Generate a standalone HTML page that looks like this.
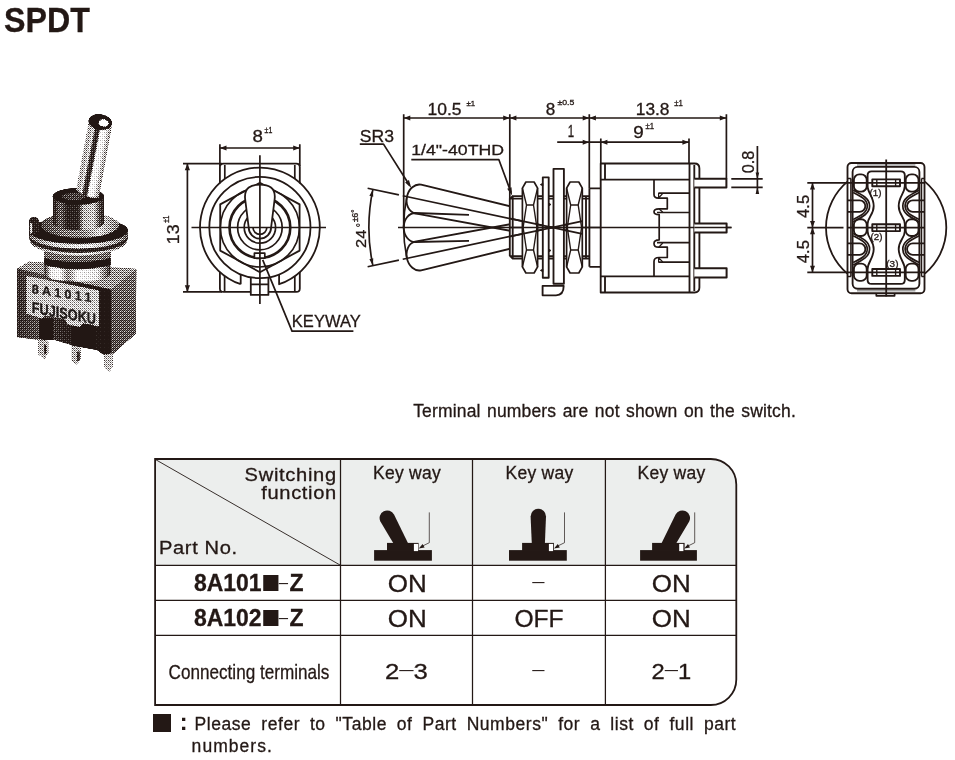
<!DOCTYPE html>
<html lang="en">
<head>
<meta charset="utf-8">
<title>SPDT</title>
<style>
html,body{margin:0;padding:0;background:#fff;}
body{will-change:transform;-webkit-text-stroke:0.3px #231815;width:955px;height:760px;position:relative;overflow:hidden;color:#231815;font-family:"Liberation Sans",sans-serif;}
h1{position:absolute;left:4px;top:0;margin:0;font-size:35px;line-height:40px;font-weight:bold;white-space:nowrap;transform:scaleX(0.92);transform-origin:0 0;}
#dwg{position:absolute;left:0;top:0;width:955px;height:760px;}
#dwg text{font-family:"Liberation Sans",sans-serif;fill:#231815;stroke:#231815;stroke-width:0.3px;}
.note{position:absolute;margin:0;white-space:nowrap;font-size:17.5px;line-height:20px;}
#cap{left:413.2px;top:400.8px;letter-spacing:0.16px;word-spacing:1.4px;}
#spec{position:absolute;left:155px;top:459px;width:582px;border-collapse:collapse;border-spacing:0;table-layout:fixed;}
#spec td,#spec th{padding:0;margin:0;text-align:center;vertical-align:middle;font-weight:normal;font-size:23px;line-height:26px;white-space:nowrap;position:relative;}
#spec th.kw{vertical-align:top;font-size:17.5px;line-height:20px;}
#spec th.kw span{display:block;margin-top:4.3px;letter-spacing:0.25px;}
#spec th.corner{font-size:18.3px;line-height:18.3px;}
#spec .sw{position:absolute;right:4.2px;top:7.4px;text-align:right;letter-spacing:0.62px;transform:scaleX(1.1);transform-origin:100% 0;}
#spec .sw .f{letter-spacing:0.58px;position:relative;top:-0.5px;}
#spec .pn{position:absolute;left:4.4px;top:79.7px;letter-spacing:0.57px;transform:scaleX(1.1);transform-origin:0 0;}
#spec td.part b{font-weight:bold;font-size:24.2px;display:inline-block;position:relative;left:1px;top:1.3px;transform:scaleX(0.95);}
#spec td.ct span{display:inline-block;font-size:21px;width:200px;margin:0 -8px 0 -10px;transform:scaleX(0.815);transform-origin:50% 50%;position:relative;left:2px;top:1.5px;}
#spec .w{display:inline-block;transform:scaleX(1.13);transform-origin:50% 50%;position:relative;top:1px;}
#spec .w.off{transform:scaleX(1.07);left:-0.5px;}
#spec .n.n3{transform:scaleX(1.17);left:-0.8px;}
#spec .n.n1{transform:scaleX(1.08);left:-0.6px;}
#spec .n{display:inline-block;font-size:22px;transform:scaleX(1.06);position:relative;top:1.5px;}
#spec .d{display:inline-block;position:relative;top:-2.6px;font-size:22px;font-weight:normal;-webkit-text-stroke:0;transform:scaleY(0.75);}
#spec b .d{margin:0 0.5px 0 -1.2px;transform:scale(0.8,0.75);top:-1.6px;}
#spec td>.d{top:-0.9px;left:-1.2px;}
#spec .n .d{top:-1.8px;}
.sq{display:inline-block;width:16.2px;height:16.9px;overflow:hidden;vertical-align:-0.1px;margin:0 0 0 1.7px;font:normal normal 60px/16.9px "Liberation Sans",sans-serif;text-indent:-9px;text-align:left;color:#231815;-webkit-text-stroke:0;}
#foot{position:absolute;left:154px;top:712px;width:582px;height:46px;margin:0;font-size:17.5px;line-height:22.5px;white-space:nowrap;}
#foot .sq.big{position:absolute;left:-0.8px;top:2.2px;width:17.7px;height:17.6px;line-height:17.6px;margin:0;}
#foot .colon{position:absolute;left:25.8px;top:-1.4px;font-weight:bold;font-size:23.5px;-webkit-text-stroke:0;}
#foot .l1{position:absolute;left:40.6px;top:0.5px;word-spacing:4.5px;letter-spacing:0.55px;}
#foot .l2{position:absolute;left:37.6px;top:22.6px;letter-spacing:1.05px;}
</style>
</head>
<body>
<h1>SPDT</h1>
<svg id="dwg" width="955" height="760" viewBox="0 0 955 760">
<g id="front" fill="none" stroke="#231815" stroke-width="1.8" stroke-linejoin="round">
  <!-- body -->
  <path d="M223.4 163.6 H296.3 Q299.8 163.6 299.8 167.1 V183.5 M299.8 272 V288.4 Q299.8 291.9 296.3 291.9 H268.4 M250.8 291.9 H223.4 Q219.9 291.9 219.9 288.4 V272 M219.9 183.5 V167.1 Q219.9 163.6 223.4 163.6"/>
  <path d="M224.8 165 V179 M294.8 165 V179 M224.6 276 V291 M294.8 276 V291" stroke-width="1.7"/>
  <!-- washer -->
  <path d="M240.7 284.2 A59.9 59.9 0 1 1 279.1 284.2 V274.4 M240.7 284.2 V274.4"/>
  <circle cx="259.9" cy="227.5" r="50.6"/>
  <!-- hex nut -->
  <path d="M259.9 182.8 L299.6 204.4 V250.6 L259.9 272.2 L220.2 250.6 V204.4 Z"/>
  <circle cx="259.9" cy="227.5" r="39.5" stroke-width="1.6"/>
  <circle cx="259.9" cy="227.5" r="30.4" stroke-width="2.6"/>
  <circle cx="259.9" cy="227.5" r="22.3" stroke-width="1.7"/>
  <circle cx="259.9" cy="227.5" r="15.7" stroke-width="1.7"/>
  <!-- lever -->
  <path d="M248.7 227.5 L245.2 199.5 C243.6 187.5 251.5 184.6 259.9 184.6 C268.3 184.6 276.2 187.5 274.6 199.5 L271.1 227.5 A11.2 11.2 0 0 1 248.7 227.5 Z" fill="#fff"/>
  <path d="M253 227.5 A6.9 6.9 0 0 0 266.8 227.5" stroke-width="1.7"/>
  <!-- keyway -->
  <rect x="254.4" y="253.2" width="10.4" height="5" fill="#fff" stroke-width="1.7"/>
  <!-- terminal -->
  <path d="M250.8 278.1 V294.9 H268.4 V278.1 M250.8 284.4 H268.4"/>
  <!-- centre lines -->
  <path d="M259.9 155.2 V304 M191.5 227.5 H326" stroke-width="1.7"/>
  <!-- dims -->
  <path d="M219.9 144.3 V166 M299.8 144.3 V166 M219.9 148 H299.8" stroke-width="1.7"/>
  <path d="M183 163.6 H222 M183 291.9 H222 M187.4 163.6 V291.9" stroke-width="1.7"/>
  <g fill="#231815" stroke="none">
    <path d="M219.9 148 L226.5 145.4 V150.6 Z M299.8 148 L293.2 145.4 V150.6 Z"/>
    <path d="M187.4 163.6 L184.8 170.2 H190 Z M187.4 291.9 L184.8 285.3 H190 Z"/>
  </g>
  <!-- keyway leader -->
  <path d="M262.7 259.9 L292 331.1 H353.4" stroke-width="1.7"/>
</g>
<g id="side" fill="none" stroke="#231815" stroke-width="1.85" stroke-linejoin="round">
<clipPath id="cl"><rect x="380" y="150" width="129.8" height="160"/></clipPath>
<g clip-path="url(#cl)"><path d="M522.10 215.86 L415.10 212.86 C408.80 212.86 403.70 219.42 403.70 227.50 C403.70 235.58 408.80 242.14 415.10 242.14 L522.10 239.14" transform="rotate(12 552.1 227.5)"/><path d="M522.10 215.86 L415.10 212.86 C408.80 212.86 403.70 219.42 403.70 227.50 C403.70 235.58 408.80 242.14 415.10 242.14 L522.10 239.14" transform="rotate(-12 552.1 227.5)"/></g>
<path d="M469 214.9 L415.1 213 C408.8 213 403.7 219.5 403.7 227.5 C403.7 235.5 408.8 242 415.1 242 L469 240.9"/>
<path d="M399.4 227.5 H583" transform="rotate(12 552.1 227.5)" stroke-width="1.7"/>
<path d="M363.5 227.5 H395.5" transform="rotate(12 552.1 227.5)" stroke-width="1.7"/>
<path d="M399.4 227.5 H583" transform="rotate(-12 552.1 227.5)" stroke-width="1.7"/>
<path d="M363.5 227.5 H395.5" transform="rotate(-12 552.1 227.5)" stroke-width="1.7"/>
<path d="M398 227.5 H731.5" stroke-width="1.7"/>
<path d="M406.94 196.65 A148.4 148.4 0 0 0 406.94 258.35" stroke-width="1.6"/>
<path d="M512.7 196.1 H589 M512.7 258.6 H589 M509.8 199 L512.7 196.1 V258.6 L509.8 255.7 Z M509.8 198.6 H589 M509.8 256.2 H589 M586 196.1 V258.6" />
<rect x="542.8" y="177.3" width="5.9" height="100.4" fill="#fff"/>
<path d="M540.3 184.6 L542.8 183.2 V186 Z M551 204.5 L548.7 203.1 V206 Z M551 250.5 L548.7 249 V252 Z M540.3 270.4 L542.8 269 V271.8 Z" fill="#231815" stroke-width="0.8"/>
<path d="M553.5 283.7 V168.8 H563.9 V283.7 Z" fill="#fff"/>
<path d="M542.6 285.8 H563.7 Q563.7 295.3 556 295.3 H542.6 Z" fill="#fff"/>
<path d="M525.9 182.0 H534.1 L537.6 188.1 V266.9 L534.1 273.0 H525.9 L522.4 266.9 V188.1 Z" fill="#fff" stroke-width="1.7"/>
<path d="M522.4 188.1 L526.5 205.0 H533.5 L537.6 188.1 M526.5 205.0 L523.1 227.5 L526.5 250.0 H533.5 L536.9 227.5 L533.5 205.0 M526.5 250.0 L522.4 266.9 M533.5 250.0 L537.6 266.9" stroke-width="1.4"/>
<path d="M570.1 182.0 H578.8 L582.3 188.1 V266.9 L578.8 273.0 H570.1 L566.6 266.9 V188.1 Z" fill="#fff" stroke-width="1.7"/>
<path d="M566.6 188.1 L570.7 205.0 H578.1999999999999 L582.3 188.1 M570.7 205.0 L567.3000000000001 227.5 L570.7 250.0 H578.1999999999999 L581.5999999999999 227.5 L578.1999999999999 205.0 M570.7 250.0 L566.6 266.9 M578.1999999999999 250.0 L582.3 266.9" stroke-width="1.4"/>
<path d="M509.8 227.5 H583" transform="rotate(12 552.1 227.5)" stroke-width="1.7"/>
<path d="M509.8 227.5 H583" transform="rotate(-12 552.1 227.5)" stroke-width="1.7"/>
<path d="M509.8 227.5 H600" stroke-width="1.7"/>
<path d="M589.4 188.3 H600.6 M589.4 266.8 H600.6 M589.4 188.3 V266.8"/>
<path d="M600.7 163.5 H694.5 Q699.4 163.5 699.4 168.4 V287.6 Q699.4 292.5 694.5 292.5 H600.7 Z"/>
<path d="M605 163.5 V179.6 M600.7 179.6 H689.5 M605 292.5 V276.3 M600.7 276.3 H689.5 M689.5 163.5 V292.5 M694.3 165 V291"/>
<path d="M654 179.6 V194.6 Q654 198.2 658.4 198.2 H667.3 V208.8 H659 Q654 208.8 654 211.8 Q654 214.7 659.2 214.7 V239.8 Q654 239.8 654 243.5 Q654 247.2 658.4 247.2 H667.3 V257.5 H659 Q654 257.5 654 261.5 V276.3" stroke-width="1.7"/>
<path d="M658.4 193.1 H689.5 M657 212.5 H689.5 M657 242.7 H689.5 M658.4 262.2 H689.5" stroke-width="1.7"/>
<path d="M658.6 193.1 V198 L662.8 193.4 M662.8 212.3 L659 208.8 M662.8 243 L659 247 M658.6 262.2 V257.6 L662.8 262" stroke-width="1.2"/>
<path d="M694.3 178.7 H726.4 V187.4 H694.3 M694.3 223.6 H726.6 V232.4 H694.3 M694.3 268.3 H726.6 V277.4 H694.3" fill="#fff" stroke-width="2"/>
<path d="M694.3 227.5 H731.5" stroke-width="1.7"/>
<g stroke-width="1.7">
<path d="M403.7 114.3 V227.5 M509.8 114.3 V199 M589.3 114.3 V188.3 M726.4 114.3 V178.7 M403.7 118 H726.4"/>
<path d="M557.2 142.2 H689 M600.8 138.5 V163.5 M689 138.5 V163.5"/>
<path d="M731.3 178.9 H762.7 M731.3 187.4 H762.7 M757.4 146.1 V192.8"/>
<path d="M359.8 144.1 H383.5 L409.5 185.2 M411.3 159.7 H498.9 L511 192.5"/>
<path d="M372.90 189.41 A183.2 183.2 0 0 0 372.90 265.59"/>
</g>
<path d="M403.70 118.00 L410.30 115.50 L410.30 120.50 Z M509.80 118.00 L503.20 120.50 L503.20 115.50 Z M509.80 118.00 L516.40 115.50 L516.40 120.50 Z M589.30 118.00 L582.70 120.50 L582.70 115.50 Z M589.30 118.00 L595.90 115.50 L595.90 120.50 Z M726.40 118.00 L719.80 120.50 L719.80 115.50 Z M589.30 142.20 L582.70 144.70 L582.70 139.70 Z M600.80 142.20 L607.40 139.70 L607.40 144.70 Z M689.00 142.20 L682.40 144.70 L682.40 139.70 Z M757.40 178.90 L755.60 172.40 L759.20 172.40 Z M757.40 187.40 L759.20 193.90 L755.60 193.90 Z M411.30 188.00 L405.08 182.47 L408.97 180.01 Z M512.10 195.50 L507.18 188.79 L511.50 187.20 Z M372.90 189.41 L373.25 196.68 L369.36 195.77 Z M372.90 265.59 L369.36 259.23 L373.25 258.32 Z" fill="#231815" stroke="none"/>
</g>
<g id="bottom" fill="none" stroke="#231815" stroke-width="1.85" stroke-linejoin="round">
<path d="M847.4 181.57 A60.2 60.2 0 0 0 847.4 273.63 M924.9 181.57 A60.2 60.2 0 0 1 924.9 273.63" stroke-width="1.8"/>
<rect x="847.5" y="163" width="77" height="130.2" rx="4" ry="4"/>
<rect x="852.6" y="166.9" width="66.8" height="121.8" rx="5" ry="5"/>
<path d="M850.9 178.6 V276.6 M921.5 178.6 V276.6 M848 178.6 H850.9 M924.4 178.6 H921.5 M848 276.6 H850.9 M924.4 276.6 H921.5" stroke-width="1.5"/>
<path d="M857 165 H915.4 M857 290.7 H915.4" stroke="#a0a0a0" stroke-width="1.5"/>
<path d="M876.3 293.2 V295.8 H894.6 V293.2" stroke-width="1.7"/>
<rect x="853.9" y="174.4" width="12.8" height="17.2" rx="5.4" ry="5.4"/>
<path d="M847.5 200.3 H859.6 A5.75 5.75 0 0 1 859.6 211.8 H847.5"/>
<path d="M853.2 192.6 C861 196.5 867.3 199.5 867.3 206 C867.3 212.5 861 215.5 853.2 219.4" stroke-width="1.7"/>
<path d="M853.2 190.2 C862.5 195 869.6 198.5 869.6 206 C869.6 213.5 862.5 217 853.2 221.8" stroke-width="1.7"/>
<g transform="translate(0 455.2) scale(1 -1)"><rect x="853.9" y="174.4" width="12.8" height="17.2" rx="5.4" ry="5.4"/>
<path d="M847.5 200.3 H859.6 A5.75 5.75 0 0 1 859.6 211.8 H847.5"/>
<path d="M853.2 192.6 C861 196.5 867.3 199.5 867.3 206 C867.3 212.5 861 215.5 853.2 219.4" stroke-width="1.7"/>
<path d="M853.2 190.2 C862.5 195 869.6 198.5 869.6 206 C869.6 213.5 862.5 217 853.2 221.8" stroke-width="1.7"/></g>
<rect x="853.9" y="219.2" width="12.8" height="16.8" rx="5.4" ry="5.4"/>
<path d="M886.2 171.3 H871.6 Q867.6 171.3 867.6 175.3 V186 C867.6 193 873.7 197 873.7 206 C873.7 215 867.6 217 867.6 224 V231.2 C867.6 238.2 873.7 240.2 873.7 249.2 C873.7 258.2 867.6 262.2 867.6 269.2 V279.9 Q867.6 283.9 871.6 283.9 H886.2"/>
<g transform="translate(1772.4 0) scale(-1 1)"><rect x="853.9" y="174.4" width="12.8" height="17.2" rx="5.4" ry="5.4"/>
<path d="M847.5 200.3 H859.6 A5.75 5.75 0 0 1 859.6 211.8 H847.5"/>
<path d="M853.2 192.6 C861 196.5 867.3 199.5 867.3 206 C867.3 212.5 861 215.5 853.2 219.4" stroke-width="1.7"/>
<path d="M853.2 190.2 C862.5 195 869.6 198.5 869.6 206 C869.6 213.5 862.5 217 853.2 221.8" stroke-width="1.7"/>
<g transform="translate(0 455.2) scale(1 -1)"><rect x="853.9" y="174.4" width="12.8" height="17.2" rx="5.4" ry="5.4"/>
<path d="M847.5 200.3 H859.6 A5.75 5.75 0 0 1 859.6 211.8 H847.5"/>
<path d="M853.2 192.6 C861 196.5 867.3 199.5 867.3 206 C867.3 212.5 861 215.5 853.2 219.4" stroke-width="1.7"/>
<path d="M853.2 190.2 C862.5 195 869.6 198.5 869.6 206 C869.6 213.5 862.5 217 853.2 221.8" stroke-width="1.7"/></g>
<rect x="853.9" y="219.2" width="12.8" height="16.8" rx="5.4" ry="5.4"/>
<path d="M886.2 171.3 H871.6 Q867.6 171.3 867.6 175.3 V186 C867.6 193 873.7 197 873.7 206 C873.7 215 867.6 217 867.6 224 V231.2 C867.6 238.2 873.7 240.2 873.7 249.2 C873.7 258.2 867.6 262.2 867.6 269.2 V279.9 Q867.6 283.9 871.6 283.9 H886.2"/></g>
<rect x="872.3" y="179.4" width="27.7" height="6.9" fill="#fff" stroke-width="1.9"/>
<path d="M876.8 179.4 v6.9 M895.6 179.4 v6.9" stroke-width="1.35"/>
<rect x="872.3" y="224.2" width="27.7" height="6.9" fill="#fff" stroke-width="1.9"/>
<path d="M876.8 224.2 v6.9 M895.6 224.2 v6.9" stroke-width="1.35"/>
<rect x="872.3" y="269.0" width="27.7" height="6.9" fill="#fff" stroke-width="1.9"/>
<path d="M876.8 269.0 v6.9 M895.6 269.0 v6.9" stroke-width="1.35"/>
<path d="M886.2 159.5 V296.4" stroke-width="1.8"/>
<path d="M807.3 182.8 H924.4 M807.3 227.7 H843.5 M847.5 227.7 H924.4 M807.3 272.4 H924.4 M812.5 182.8 V272.4" stroke-width="1.7"/>
<path d="M812.50 182.90 L815.00 189.50 L810.00 189.50 Z M812.50 227.60 L810.00 221.00 L815.00 221.00 Z M812.50 227.60 L815.00 234.20 L810.00 234.20 Z M812.50 272.30 L810.00 265.70 L815.00 265.70 Z" fill="#231815" stroke="none"/>
</g>
<g id="photo" filter="url(#ht)">
  <defs><pattern id="bayer" width="4" height="4" patternUnits="userSpaceOnUse" shape-rendering="crispEdges"><rect x="0" y="0" width="1" height="1" fill="rgb(56,56,56)"/><rect x="1" y="0" width="1" height="1" fill="rgb(132,132,132)"/><rect x="2" y="0" width="1" height="1" fill="rgb(75,75,75)"/><rect x="3" y="0" width="1" height="1" fill="rgb(151,151,151)"/><rect x="0" y="1" width="1" height="1" fill="rgb(171,171,171)"/><rect x="1" y="1" width="1" height="1" fill="rgb(94,94,94)"/><rect x="2" y="1" width="1" height="1" fill="rgb(190,190,190)"/><rect x="3" y="1" width="1" height="1" fill="rgb(113,113,113)"/><rect x="0" y="2" width="1" height="1" fill="rgb(84,84,84)"/><rect x="1" y="2" width="1" height="1" fill="rgb(161,161,161)"/><rect x="2" y="2" width="1" height="1" fill="rgb(65,65,65)"/><rect x="3" y="2" width="1" height="1" fill="rgb(142,142,142)"/><rect x="0" y="3" width="1" height="1" fill="rgb(199,199,199)"/><rect x="1" y="3" width="1" height="1" fill="rgb(123,123,123)"/><rect x="2" y="3" width="1" height="1" fill="rgb(180,180,180)"/><rect x="3" y="3" width="1" height="1" fill="rgb(104,104,104)"/></pattern>
    <filter id="tone" x="10" y="105" width="135" height="275" filterUnits="userSpaceOnUse" color-interpolation-filters="sRGB">
      <feColorMatrix type="matrix" values="0.3 0.6 0.1 0 0  0.3 0.6 0.1 0 0  0.3 0.6 0.1 0 0  0 0 0 1 0"/>
      <feComponentTransfer><feFuncR type="table" tableValues="0.000 0.000 0.000 0.159 0.226 0.278 0.324 0.364 0.397 0.430 0.463 0.496 0.532 0.566 0.599 0.634 0.674 0.721 0.773 0.837 1.000"/><feFuncG type="table" tableValues="0.000 0.000 0.000 0.159 0.226 0.278 0.324 0.364 0.397 0.430 0.463 0.496 0.532 0.566 0.599 0.634 0.674 0.721 0.773 0.837 1.000"/><feFuncB type="table" tableValues="0.000 0.000 0.000 0.159 0.226 0.278 0.324 0.364 0.397 0.430 0.463 0.496 0.532 0.566 0.599 0.634 0.674 0.721 0.773 0.837 1.000"/></feComponentTransfer>
    </filter>
    <filter id="ht" x="10" y="105" width="135" height="275" filterUnits="userSpaceOnUse" color-interpolation-filters="sRGB">
      <feComponentTransfer><feFuncR type="linear" slope="5.0" intercept="-2.0"/><feFuncG type="linear" slope="5.0" intercept="-2.0"/><feFuncB type="linear" slope="5.0" intercept="-2.0"/><feFuncA type="linear" slope="4" intercept="-2.5"/></feComponentTransfer>
      <feComponentTransfer><feFuncR type="linear" slope="0.863" intercept="0.137"/><feFuncG type="linear" slope="0.906" intercept="0.094"/><feFuncB type="linear" slope="0.918" intercept="0.082"/></feComponentTransfer>
    </filter>
    
    <linearGradient id="gLev" gradientUnits="userSpaceOnUse" x1="81.5" y1="158" x2="104.5" y2="162.4">
      <stop offset="0" stop-color="#c9c9c9"/><stop offset="0.14" stop-color="#a9a9a9"/><stop offset="0.27" stop-color="#dedede"/>
      <stop offset="0.36" stop-color="#3c3837"/><stop offset="0.5" stop-color="#2a2625"/><stop offset="0.58" stop-color="#f6f6f6"/>
      <stop offset="0.8" stop-color="#ececec"/><stop offset="0.92" stop-color="#b8b8b8"/><stop offset="1" stop-color="#9a9a9a"/>
    </linearGradient>
    <linearGradient id="gBush" x1="0" y1="0" x2="1" y2="0">
      <stop offset="0" stop-color="#1e1a19"/><stop offset="0.14" stop-color="#6a6a6a"/><stop offset="0.28" stop-color="#2a2625"/>
      <stop offset="0.5" stop-color="#2e2a29"/><stop offset="0.6" stop-color="#b4b4b4"/><stop offset="0.8" stop-color="#c6c6c6"/><stop offset="0.92" stop-color="#4a4a4a"/><stop offset="1" stop-color="#1e1a19"/>
    </linearGradient>
    <linearGradient id="gNeck" x1="0" y1="0" x2="1" y2="0">
      <stop offset="0" stop-color="#2a2625"/><stop offset="0.1" stop-color="#e8e8e8"/><stop offset="0.24" stop-color="#f2f2f2"/><stop offset="0.36" stop-color="#8a8a8a"/>
      <stop offset="0.5" stop-color="#f4f4f4"/><stop offset="0.8" stop-color="#e2e2e2"/><stop offset="0.93" stop-color="#777"/><stop offset="1" stop-color="#2a2625"/>
    </linearGradient>
    <linearGradient id="gWash" x1="0" y1="0" x2="1" y2="0">
      <stop offset="0" stop-color="#777"/><stop offset="0.25" stop-color="#cfcfcf"/><stop offset="0.6" stop-color="#e9e9e9"/><stop offset="0.85" stop-color="#b0b0b0"/><stop offset="1" stop-color="#666"/>
    </linearGradient>
    <linearGradient id="gNut" x1="0" y1="0" x2="1" y2="0">
      <stop offset="0" stop-color="#4a4a4a"/><stop offset="0.3" stop-color="#7c7c7c"/><stop offset="0.55" stop-color="#8c8c8c"/><stop offset="0.75" stop-color="#d4d4d4"/><stop offset="1" stop-color="#7a7a7a"/>
    </linearGradient>
    <linearGradient id="gSide" x1="0" y1="0" x2="0" y2="1">
      <stop offset="0" stop-color="#727272"/><stop offset="1" stop-color="#525252"/>
    </linearGradient>
    <linearGradient id="gFront" x1="0" y1="0" x2="1" y2="0">
      <stop offset="0" stop-color="#3a3635"/><stop offset="0.25" stop-color="#555"/><stop offset="0.5" stop-color="#2a2625"/><stop offset="1" stop-color="#1e1a19"/>
    </linearGradient>
  </defs>
  <g filter="url(#tone)">
  <!-- body -->
  <path d="M16.8 268.6 L29 261.5 L136.6 268.8 L111 289.8 Z" fill="#9c9c9c"/>
  <path d="M16.8 268.6 L111.5 289.6 V355.2 L103 354.6 L96 349.4 L71 345 L52.5 339.5 L38.5 340 L16.8 337.3 Z" fill="url(#gFront)"/>
  <path d="M39 318 H53 V340 H39 Z M71.5 325 H96 V350 L71.5 345.5 Z" fill="#1e1a19"/>
  <path d="M111.3 289.6 L136.6 268.8 L135.8 334 L111.3 355.4 Z" fill="url(#gSide)"/>
  <path d="M26.3 275.7 L99 290.4 V326.4 L83 323 L80 327 L67.5 324.5 L65 319.3 L45 315.2 L42 318.5 L26.3 313.4 Z" fill="#c6c6c6"/>
  <!-- pins -->
  <path d="M38.3 339 L48.5 341 V352.5 L44.5 359.6 L38.3 354.5 Z" fill="#b2b2b2"/>
  <path d="M71.6 345.8 L81 347.8 V358.5 L77 364.8 L71.6 361 Z" fill="#b2b2b2"/>
  <path d="M104.1 354.4 L112.8 353.4 V367 L109 372.5 L104.1 367.6 Z" fill="#bcbcbc"/>
  <path d="M45.2 346 v7 M78.4 352.5 v7.5" stroke="#2a2625" stroke-width="2.4" fill="none" stroke-linecap="round"/>
  <!-- neck -->
  <path d="M44.2 250 H110.5 V273 Q110.5 281.5 78 281.5 Q44.2 281.5 44.2 272 Z" fill="url(#gNeck)"/>
  <path d="M44.2 250 H110.5 V258.5 Q78 266.5 44.2 258.5 Z" fill="#707070"/>
  <path d="M44.2 258 Q78 266 110.5 258 V265 Q78 273.8 44.2 265 Z" fill="#1e1a19"/>
  <!-- washers & nut -->
  <ellipse cx="78.5" cy="240.6" rx="48.5" ry="14.8" fill="url(#gWash)"/>
  <ellipse cx="78.5" cy="238" rx="49.3" ry="15" fill="#2a2625"/>
  <ellipse cx="78.5" cy="234.5" rx="49.5" ry="14.2" fill="url(#gWash)"/>
  <ellipse cx="78.5" cy="230.5" rx="49.5" ry="13.6" fill="#1e1a19"/>
  <ellipse cx="80" cy="225" rx="39.2" ry="12.6" fill="url(#gNut)"/>
  <path d="M28.9 236 V222.5 Q28.9 217 34 217 Q39.2 217 39.2 222.5 V233 Z" fill="#2a2625"/>
  <path d="M31 224 v8.5" stroke="#d0d0d0" stroke-width="2.2" fill="none" stroke-linecap="round"/>
  <!-- bushing -->
  <path d="M52.8 196 V222 Q52.8 230 78.5 230 Q104 230 104 222 V196 Z" fill="url(#gBush)"/>
  <ellipse cx="78.4" cy="196.2" rx="25.7" ry="8.4" fill="#1e1a19"/>
  <ellipse cx="74" cy="196.5" rx="12" ry="3.6" fill="#4a4645"/>
  <!-- lever -->
  <path d="M88.3 124 L111.8 126.5 L98.8 197.5 Q86 199.5 76.2 189.5 Z" fill="url(#gLev)"/>
  <ellipse cx="100.2" cy="122" rx="11.9" ry="7.9" transform="rotate(8 100.2 122)" fill="#1e1a19"/>
  <ellipse cx="103.7" cy="123" rx="5" ry="3.6" transform="rotate(8 103.7 123)" fill="#fff"/>
  </g>
  <rect x="10" y="105" width="136" height="276" fill="url(#bayer)" opacity="0.5" shape-rendering="crispEdges"/>
</g>
<g id="photo-label">
  <!-- label text -->
  <g transform="translate(31.8 292.9) skewY(8.8)">
    <text x="0" y="0" font-size="12.5" font-weight="bold" letter-spacing="3.3" style="fill:#1e1a19">8A1011</text>
  </g>
  <g transform="translate(31.8 312.6) skewY(10.4) scale(0.82 1)">
    <text x="0" y="0" font-size="15.5" font-weight="bold" style="fill:#1e1a19">FUJISOKU</text>
  </g>
</g>
<g id="dim-text">
<text x="252.45" y="142.35" font-size="16.25" textLength="10.41" lengthAdjust="spacingAndGlyphs">8</text>
<text x="264.60" y="133.10" font-size="8.14" textLength="7.69" lengthAdjust="spacingAndGlyphs">±1</text>
<text x="291.85" y="326.90" font-size="16.71" textLength="68.90" lengthAdjust="spacingAndGlyphs">KEYWAY</text>
<text x="427.45" y="114.55" font-size="15.84" textLength="34.06" lengthAdjust="spacingAndGlyphs">10.5</text>
<text x="466.40" y="105.50" font-size="8.00" textLength="8.60" lengthAdjust="spacingAndGlyphs">±1</text>
<text x="545.70" y="114.55" font-size="15.70" textLength="9.52" lengthAdjust="spacingAndGlyphs">8</text>
<text x="557.40" y="104.85" font-size="7.45" textLength="16.83" lengthAdjust="spacingAndGlyphs">±0.5</text>
<text x="635.75" y="114.55" font-size="15.70" textLength="33.76" lengthAdjust="spacingAndGlyphs">13.8</text>
<text x="674.30" y="105.50" font-size="8.28" textLength="8.60" lengthAdjust="spacingAndGlyphs">±1</text>
<text x="567.65" y="136.90" font-size="15.64" textLength="6.40" lengthAdjust="spacingAndGlyphs">1</text>
<text x="633.15" y="137.65" font-size="15.84" textLength="10.51" lengthAdjust="spacingAndGlyphs">9</text>
<text x="645.40" y="128.50" font-size="8.28" textLength="8.60" lengthAdjust="spacingAndGlyphs">±1</text>
<text x="359.75" y="141.65" font-size="16.25" textLength="34.20" lengthAdjust="spacingAndGlyphs">SR3</text>
<text x="411.25" y="155.45" font-size="15.44" textLength="92.81" lengthAdjust="spacingAndGlyphs">1/4"-40THD</text>
<text x="869.50" y="195.60" font-size="9.03" textLength="11.96" lengthAdjust="spacingAndGlyphs">(1)</text>
<text x="870.50" y="240.40" font-size="9.03" textLength="11.96" lengthAdjust="spacingAndGlyphs">(2)</text>
<text x="886.30" y="266.50" font-size="9.03" textLength="12.16" lengthAdjust="spacingAndGlyphs">(3)</text>
<text transform="translate(178.75 244.15) rotate(-90)" font-size="16.53" textLength="19.86" lengthAdjust="spacingAndGlyphs">13</text>
<text transform="translate(168.95 222.80) rotate(-90)" font-size="8.27" textLength="7.22" lengthAdjust="spacingAndGlyphs">±1</text>
<text transform="translate(753.65 173.20) rotate(-90)" font-size="16.39" textLength="22.48" lengthAdjust="spacingAndGlyphs">0.8</text>
<text transform="translate(366.35 248.05) rotate(-90)" font-size="15.14" textLength="18.37" lengthAdjust="spacingAndGlyphs">24</text>
<text transform="translate(363.50 227.30) rotate(-90)" font-size="11.26" textLength="4.15" lengthAdjust="spacingAndGlyphs">°</text>
<text transform="translate(358.25 222.05) rotate(-90)" font-size="8.29" textLength="12.52" lengthAdjust="spacingAndGlyphs">±6°</text>
<text transform="translate(808.75 218.05) rotate(-90)" font-size="16.47" textLength="23.22" lengthAdjust="spacingAndGlyphs">4.5</text>
<text transform="translate(808.75 263.25) rotate(-90)" font-size="16.47" textLength="23.22" lengthAdjust="spacingAndGlyphs">4.5</text>
</g>
</svg>
<p class="note" id="cap">Terminal numbers are not shown on the switch.</p>
<svg id="tframe" width="955" height="760" viewBox="0 0 955 760" style="position:absolute;left:0;top:0">
  <path d="M155.1 459 H710.8 A25.5 25.5 0 0 1 736.3 484.5 V565.3 H155.1 Z" fill="#eceeed"/>
  <g fill="none" stroke="#231815">
    <path d="M155.1 459 H710.8 A25.5 25.5 0 0 1 736.3 484.5 V679.5 A25.5 25.5 0 0 1 710.8 705 H155.1 Z" stroke-width="1.8"/>
    <path d="M340.5 459V704.8 M472.5 459V704.8 M605.4 459V704.8 M155.1 565.3H736.2 M155.1 600.4H736.2 M155.1 635.4H736.2" stroke-width="1.25"/>
    <path d="M155.6 459.6 L340 565" stroke-width="0.9"/>
  </g>
  <g id="ic1" fill="#231815">
    <rect x="374.1" y="550.1" width="57.8" height="10.6"/>
    <rect x="387" y="542.9" width="31.6" height="8"/>
    <path d="M380.4 521.5 A7.6 7.6 0 1 1 394 514.6 L408.2 543.5 H393.5 Z"/>
    <rect x="413.9" y="543.9" width="4.2" height="7.2" fill="#fff"/>
    <path d="M429.3 512.4 V542.7 L421 546.8" fill="none" stroke="#231815" stroke-width="0.7"/>
    <path d="M418.8 548.4 L422.6 543.9 L424.6 547.6 Z"/>
  </g>
  <g id="ic2" fill="#231815">
    <rect x="509" y="550.1" width="57.8" height="10.6"/>
    <rect x="522.1" y="542.9" width="31.8" height="8"/>
    <path d="M530.6 516.4 A7.7 7.7 0 0 1 546 516.4 L544.9 543.5 H531.8 Z"/>
    <rect x="548.9" y="543.9" width="4.2" height="7.2" fill="#fff"/>
    <path d="M564.5 512.4 V542.7 L556.2 546.8" fill="none" stroke="#231815" stroke-width="0.7"/>
    <path d="M554 548.4 L557.8 543.9 L559.8 547.6 Z"/>
  </g>
  <g id="ic3" fill="#231815">
    <rect x="640.1" y="550.1" width="56.8" height="10.6"/>
    <rect x="652.1" y="542.9" width="32.5" height="8"/>
    <path d="M675.6 514.6 A7.6 7.6 0 1 1 689.2 521.5 L676.1 543.5 H661.4 Z"/>
    <rect x="679.2" y="543.9" width="4.2" height="7.2" fill="#fff"/>
    <path d="M694.7 512.4 V542.7 L686.4 546.8" fill="none" stroke="#231815" stroke-width="0.7"/>
    <path d="M684.2 548.4 L688 543.9 L690 547.6 Z"/>
  </g>
</svg>
<table id="spec">
  <colgroup><col style="width:186px"><col style="width:132px"><col style="width:133px"><col style="width:131px"></colgroup>
  <thead>
    <tr style="height:106px">
      <th class="corner"><span class="sw">Switching<br><span class="f">function</span></span><span class="pn">Part No.</span></th>
      <th class="kw"><span>Key way</span></th>
      <th class="kw"><span>Key way</span></th>
      <th class="kw"><span>Key way</span></th>
    </tr>
  </thead>
  <tbody>
    <tr style="height:35px"><td class="part"><b>8A101<i class="sq">&#9632;</i><span class="d">&#8211;</span>Z</b></td><td><span class="w">ON</span></td><td><span class="d">&#8211;</span></td><td><span class="w">ON</span></td></tr>
    <tr style="height:35px"><td class="part"><b>8A102<i class="sq">&#9632;</i><span class="d">&#8211;</span>Z</b></td><td><span class="w">ON</span></td><td><span class="w off">OFF</span></td><td><span class="w">ON</span></td></tr>
    <tr style="height:70px"><td class="ct"><span>Connecting terminals</span></td><td><span class="n n3">2<span class="d">&#8211;</span>3</span></td><td><span class="d">&#8211;</span></td><td><span class="n n1">2<span class="d">&#8211;</span>1</span></td></tr>
  </tbody>
</table>
<p id="foot"><i class="sq big">&#9632;</i><span class="colon">:</span><span class="l1">Please refer to "Table of Part Numbers" for a list of full part</span><span class="l2">numbers.</span></p>
</body>
</html>
